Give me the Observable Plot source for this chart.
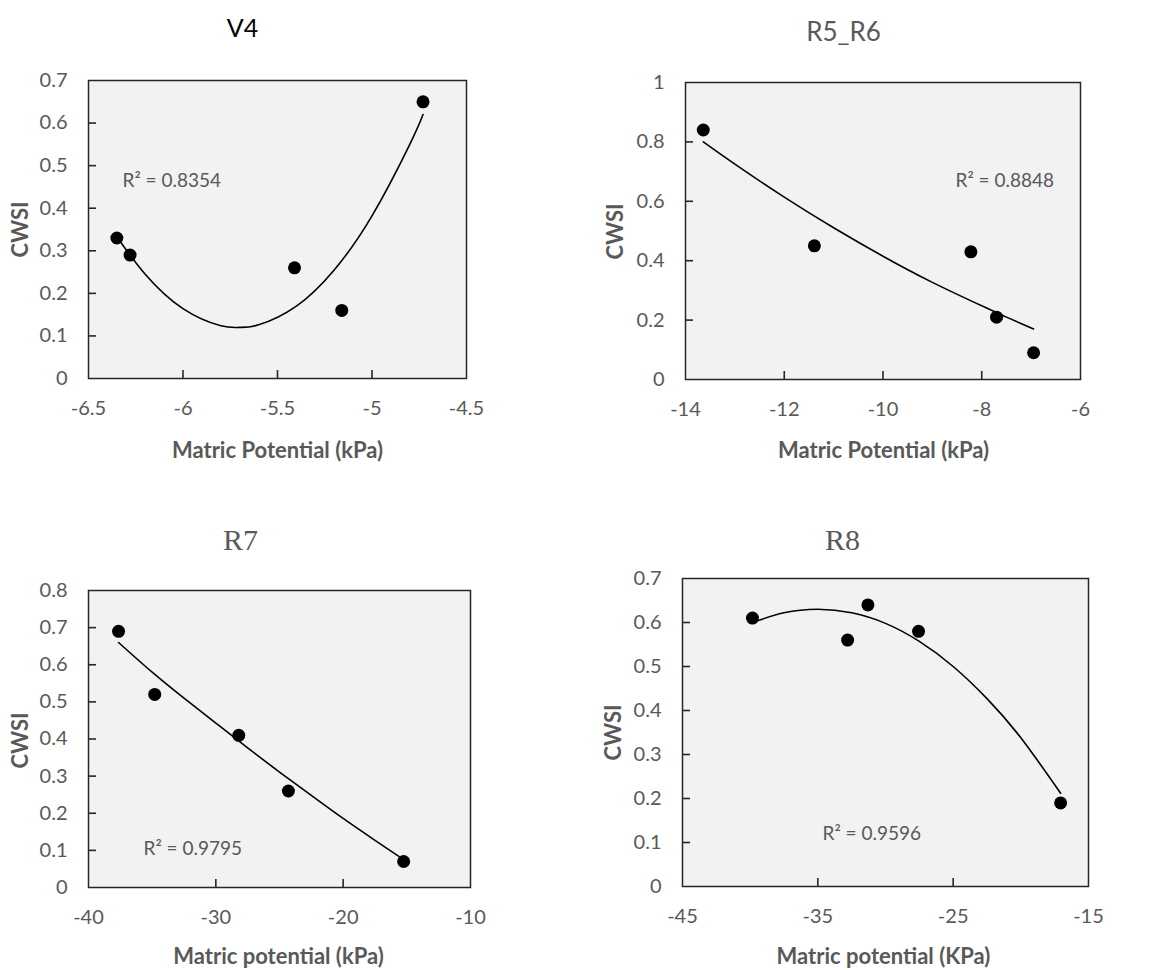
<!DOCTYPE html>
<html>
<head>
<meta charset="utf-8">
<script src="https://cdn.jsdelivr.net/npm/d3@7"></script>
<script src="https://cdn.jsdelivr.net/npm/@observablehq/plot@0.6"></script>
<style>
  html, body { margin: 0; padding: 0; background: #ffffff; }
  #root { position: relative; width: 1153px; height: 970px; overflow: hidden; }
  .panel { position: absolute; }
</style>
</head>
<body>
<div id="root"></div>
<script>
// ---------- Data ----------
// V4
const v4PointX = [-6.35, -6.28, -5.41, -5.16, -4.73];
const v4PointY = [0.33, 0.29, 0.26, 0.16, 0.65];
const v4TrendX = [-6.35, -6.2, -6.0, -5.8, -5.7, -5.6, -5.4, -5.2, -5.0, -4.8, -4.73];
const v4TrendY = [0.333, 0.245, 0.164, 0.124, 0.12, 0.126, 0.17, 0.255, 0.382, 0.55, 0.62];
const v4XTicks = [-6.5, -6, -5.5, -5, -4.5];
const v4YTicks = [0, 0.1, 0.2, 0.3, 0.4, 0.5, 0.6, 0.7];

// R5_R6
const r56PointX = [-13.64, -11.39, -8.22, -7.70, -6.95];
const r56PointY = [0.84, 0.45, 0.43, 0.21, 0.09];
const r56TrendX = [-13.64, -13, -12, -11, -10, -9, -8, -7.5, -6.95];
const r56TrendY = [0.80, 0.725, 0.614, 0.511, 0.415, 0.327, 0.248, 0.21, 0.17];
const r56XTicks = [-14, -12, -10, -8, -6];
const r56YTicks = [0, 0.2, 0.4, 0.6, 0.8, 1];

// R7
const r7PointX = [-37.64, -34.8, -28.2, -24.3, -15.25];
const r7PointY = [0.69, 0.52, 0.41, 0.26, 0.07];
const r7TrendX = [-37.64, -35, -32.5, -30, -27.5, -25, -22.5, -20, -17.5, -15.25];
const r7TrendY = [0.66, 0.58, 0.51, 0.443, 0.376, 0.311, 0.248, 0.186, 0.127, 0.075];
const r7XTicks = [-40, -30, -20, -10];
const r7YTicks = [0, 0.1, 0.2, 0.3, 0.4, 0.5, 0.6, 0.7, 0.8];

// R8
const r8PointX = [-39.83, -32.8, -31.3, -27.56, -17.06];
const r8PointY = [0.61, 0.56, 0.64, 0.58, 0.19];
const r8TrendX = [-39.83, -37.5, -35, -32.5, -30, -27.5, -25, -22.5, -20, -17.06];
const r8TrendY = [0.600, 0.622, 0.630, 0.622, 0.598, 0.557, 0.500, 0.427, 0.338, 0.212];
const r8XTicks = [-45, -35, -25, -15];
const r8YTicks = [0, 0.1, 0.2, 0.3, 0.4, 0.5, 0.6, 0.7];

// Texts
const titles = ["V4", "R5_R6", "R7", "R8"];
const r2Labels = ["R\u00B2 = 0.8354", "R\u00B2 = 0.8848", "R\u00B2 = 0.9795", "R\u00B2 = 0.9596"];
const xTitles = ["Matric Potential (kPa)", "Matric Potential (kPa)", "Matric potential (kPa)", "Matric potential (KPa)"];
const yTitle = "CWSI";

// ---------- Build tables ----------
const zipXY = (xs, ys) => xs.map((x, i) => ({x, y: ys[i]}));

const GRAY = "#595959";
const SANS = "Lato, 'Open Sans', sans-serif";
const SERIF = "'Liberation Serif', 'DejaVu Serif', serif";
const TICK = 8;

const panels = [
  {
    points: zipXY(v4PointX, v4PointY), trend: zipXY(v4TrendX, v4TrendY),
    xTicks: v4XTicks, yTicks: v4YTicks,
    title: titles[0], r2: r2Labels[0], xTitle: xTitles[0],
    layout: {left: 0, top: 0, width: 576, height: 485, mL: 88, mT: 80, mR: 110, mB: 107,
      titleDx: 154, titleDy: -52, titleFont: SANS, titleSize: 25, titleColor: "#000000",
      r2Dx: 34, r2Dy: 100, yDx: -68, yDy: 149, xDx: 189, xDy: 370}
  },
  {
    points: zipXY(r56PointX, r56PointY), trend: zipXY(r56TrendX, r56TrendY),
    xTicks: r56XTicks, yTicks: r56YTicks,
    title: titles[1], r2: r2Labels[1], xTitle: xTitles[1],
    layout: {left: 576, top: 0, width: 577, height: 485, mL: 109, mT: 82, mR: 73, mB: 106,
      titleDx: 158, titleDy: -50, titleFont: SANS, titleSize: 26, titleColor: GRAY,
      r2Dx: 270, r2Dy: 98, yDx: -70, yDy: 149, xDx: 198, xDy: 368}
  },
  {
    points: zipXY(r7PointX, r7PointY), trend: zipXY(r7TrendX, r7TrendY),
    xTicks: r7XTicks, yTicks: r7YTicks,
    title: titles[2], r2: r2Labels[2], xTitle: xTitles[2],
    layout: {left: 0, top: 485, width: 576, height: 485, mL: 88, mT: 105, mR: 106, mB: 83,
      titleDx: 152, titleDy: -50, titleFont: SERIF, titleSize: 30, titleColor: GRAY,
      r2Dx: 55, r2Dy: 258, yDx: -68, yDy: 150, xDx: 190, xDy: 366}
  },
  {
    points: zipXY(r8PointX, r8PointY), trend: zipXY(r8TrendX, r8TrendY),
    xTicks: r8XTicks, yTicks: r8YTicks,
    title: titles[3], r2: r2Labels[3], xTitle: xTitles[3],
    layout: {left: 576, top: 485, width: 577, height: 485, mL: 106, mT: 93, mR: 65, mB: 84,
      titleDx: 160, titleDy: -38, titleFont: SERIF, titleSize: 30, titleColor: GRAY,
      r2Dx: 140, r2Dy: 255, yDx: -69, yDy: 154, xDx: 201, xDy: 378}
  }
];

const root = document.getElementById("root");
const fmt = d => String(d);

for (const p of panels) {
  const L = p.layout;
  const frameW = L.width - L.mL - L.mR;
  const frameH = L.height - L.mT - L.mB;
  const xDomain = [p.xTicks[0], p.xTicks[p.xTicks.length - 1]];
  const yDomain = [p.yTicks[0], p.yTicks[p.yTicks.length - 1]];
  const chart = Plot.plot({
    width: L.width,
    height: L.height,
    marginLeft: L.mL, marginTop: L.mT, marginRight: L.mR, marginBottom: L.mB,
    style: {fontFamily: SANS, fontSize: "20px", color: GRAY, background: "transparent", overflow: "visible"},
    x: {domain: xDomain, nice: false},
    y: {domain: yDomain, nice: false},
    marks: [
      Plot.frame({fill: "#f2f2f2", stroke: null}),
      // tick labels
      Plot.axisX({ticks: p.xTicks, tickSize: 0, tickPadding: 22, tickFormat: fmt, label: null, fill: GRAY, fontSize: 20}),
      Plot.axisY({ticks: p.yTicks, tickSize: 0, tickPadding: 21, tickFormat: fmt, label: null, fill: GRAY, fontSize: 20}),
      Plot.frame({stroke: "#262626", strokeWidth: 1.5}),
      // inward tick marks: short rules standing on the bottom / left frame edges
      Plot.ruleX(p.xTicks.slice(1, -1), {x: d => d, y1: () => yDomain[0], y2: () => yDomain[0] + (yDomain[1] - yDomain[0]) * TICK / frameH,
        stroke: "#262626", strokeWidth: 1.6}),
      Plot.ruleY(p.yTicks.slice(1, -1), {y: d => d, x1: () => xDomain[0], x2: () => xDomain[0] + (xDomain[1] - xDomain[0]) * TICK / frameW,
        stroke: "#262626", strokeWidth: 1.6}),
      Plot.line(p.trend, {x: "x", y: "y", curve: "natural", stroke: "#000000", strokeWidth: 1.6}),
      Plot.dot(p.points, {x: "x", y: "y", r: 6.5, fill: "#000000", stroke: null}),
      // texts
      Plot.text([p.title], {frameAnchor: "top-left", text: d => d, dx: L.titleDx, dy: L.titleDy,
        textAnchor: "middle", lineAnchor: "middle", fontFamily: L.titleFont, fontSize: L.titleSize, fill: L.titleColor}),
      Plot.text([p.r2], {frameAnchor: "top-left", text: d => d, dx: L.r2Dx, dy: L.r2Dy,
        textAnchor: "start", lineAnchor: "middle", fontSize: 19, fill: GRAY}),
      Plot.text([yTitle], {frameAnchor: "top-left", text: d => d, dx: L.yDx, dy: L.yDy, rotate: -90,
        textAnchor: "middle", lineAnchor: "middle", fontSize: 22, fontWeight: "bold", fill: GRAY}),
      Plot.text([p.xTitle], {frameAnchor: "top-left", text: d => d, dx: L.xDx, dy: L.xDy,
        textAnchor: "middle", lineAnchor: "middle", fontSize: 22, fontWeight: "bold", fill: GRAY})
    ]
  });
  const wrap = document.createElement("div");
  wrap.className = "panel";
  wrap.style.left = L.left + "px";
  wrap.style.top = L.top + "px";
  wrap.appendChild(chart);
  root.appendChild(wrap);
}
</script>
</body>
</html>
